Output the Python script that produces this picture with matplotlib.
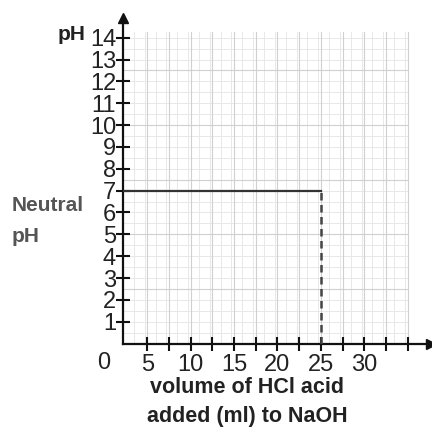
import numpy as np
import matplotlib
matplotlib.use("Agg")
import matplotlib.pyplot as plt

# ---- data ----
neutral_ph = 7
equivalence_volume = 25
y_ticks = list(range(1, 15))
y_tick_labels = [str(v) for v in y_ticks]
x_ticks = [5, 7.5, 10, 12.5, 15, 17.5, 20, 22.5, 25, 27.5, 30, 32.5, 35]
x_tick_labels = ["5", "", "10", "", "15", "", "20", "", "25", "", "30", "", ""]
x_label = "volume of HCl acid\nadded (ml) to NaOH"
y_label = "pH"
side_label = "Neutral\npH"

W, H = 432, 429
fig = plt.figure(figsize=(W / 100, H / 100), dpi=100)
fig.patch.set_facecolor("white")

x0, x1 = 2.2, 37.7
y0, y1 = 0.0, 14.9
left_px, right_px = 123, 431
bottom_px, top_px = 343.6, 18
ax = fig.add_axes([left_px / W, 1 - bottom_px / H,
                   (right_px - left_px) / W, (bottom_px - top_px) / H])
ax.set_xlim(x0, x1)
ax.set_ylim(y0, y1)
ax.set_facecolor("none")

narrow = ["Liberation Sans", "DejaVu Sans"]
bold = ["Liberation Sans", "DejaVu Sans"]

# grid
gx_max, gy_max = 35, 14.25
for gx in np.arange(x0, gx_max + 0.01, 1.25):
    ax.plot([gx, gx], [0, gy_max], color="#e8e8e8", lw=0.7, zorder=0)
for gy in np.arange(0.5, gy_max + 0.01, 0.5):
    ax.plot([x0, gx_max], [gy, gy], color="#e8e8e8", lw=0.7, zorder=0)
for gx in np.arange(5, gx_max + 0.01, 2.5):
    ax.plot([gx, gx], [0, gy_max], color="#d0d0d0", lw=0.8, zorder=0)
for gy in np.arange(2.5, gy_max + 0.01, 2.5):
    ax.plot([x0, gx_max], [gy, gy], color="#d0d0d0", lw=0.8, zorder=0)

# spines
for s in ["top", "right"]:
    ax.spines[s].set_visible(False)
for s in ["left", "bottom"]:
    ax.spines[s].set_linewidth(1.6)
    ax.spines[s].set_color("#111111")
ax.plot(1, 0, ">", color="#111111", ms=7, transform=ax.transAxes, clip_on=False)
ax.plot(0, 1, "^", color="#111111", ms=7, transform=ax.transAxes, clip_on=False)

ax.set_yticks(y_ticks)
ax.set_yticklabels(y_tick_labels)
ax.set_xticks(x_ticks)
ax.set_xticklabels(x_tick_labels)
ax.tick_params(axis="both", direction="inout", length=10, width=1.5,
               color="#111111", labelcolor="#222222")
ax.tick_params(axis="y", pad=0)
ax.tick_params(axis="x", pad=2.5)
for lab in ax.get_yticklabels() + ax.get_xticklabels():
    lab.set_family(narrow)
    lab.set_fontsize(17)
ax.annotate("0", xy=(0, 0), xycoords=ax.get_xaxis_transform(),
            xytext=(0, -6.1), textcoords="offset points", ha="center", va="top",
            fontsize=17, family=narrow, color="#222222", annotation_clip=False)

# neutral lines
ax.plot([x0, equivalence_volume], [neutral_ph, neutral_ph], color="#333333", lw=1.6,
        zorder=3)
ax.plot([equivalence_volume, equivalence_volume], [0, neutral_ph], color="#444444",
        lw=1.8, ls=(0, (3, 1.8)), zorder=3)

# labels
fig.text(58 / W, 1 - 35 / H, y_label, ha="left", va="center", fontsize=15,
         fontweight="bold", family=bold, color="#222222")
fig.text(12 / W, 1 - 221 / H, side_label, ha="left", va="center", fontsize=15,
         fontweight="bold", family=bold, color="#555555", linespacing=1.85)
fig.text(247 / W, 1 - 402 / H, x_label, ha="center", va="center", fontsize=15.5,
         fontweight="bold", family=bold, color="#222222", linespacing=1.45)

fig.savefig("out.png", dpi=100)
